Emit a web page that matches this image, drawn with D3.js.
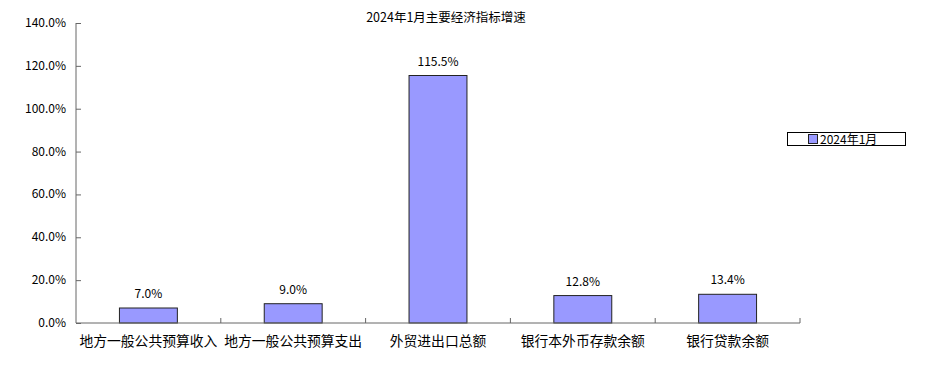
<!DOCTYPE html>
<html><head><meta charset="utf-8">
<script src="https://cdn.jsdelivr.net/npm/d3@7"></script>
<style>body{margin:0;background:#fff}svg text{font-family:"Noto Sans CJK SC","DejaVu Sans",sans-serif;fill:#000}</style>
</head><body><svg id="c" width="930" height="368"></svg>
<script>
const categories=["地方一般公共预算收入","地方一般公共预算支出","外贸进出口总额","银行本外币存款余额","银行贷款余额"];
const values=[7.0,9.0,115.5,12.8,13.4];
const yTicks=[0,20,40,60,80,100,120,140];
const seriesName="2024年1月";
const title="2024年1月主要经济指标增速";

const svg=d3.select("#c");
const L=76,R=800,T=23,B=323;
const x=d3.scaleBand().domain(categories).range([L,R]).paddingInner(0).paddingOuter(0);
const y=d3.scaleLinear().domain([0,140]).range([B,T]);
const fmt=v=>v.toFixed(1)+"%";

svg.append("text").attr("x",446).attr("y",22).attr("text-anchor","middle").attr("font-size",12.5).text(title);

// bars
svg.selectAll("rect.bar").data(values).join("rect").attr("class","bar")
 .attr("x",(d,i)=>x(categories[i])+x.bandwidth()*0.3).attr("width",x.bandwidth()*0.4)
 .attr("y",d=>y(d)).attr("height",d=>B-y(d))
 .attr("fill","#9999FF").attr("stroke","#222").attr("stroke-width",1);

svg.selectAll("text.val").data(values).join("text").attr("class","val")
 .attr("x",(d,i)=>x(categories[i])+x.bandwidth()/2).attr("y",d=>y(d)-10)
 .attr("text-anchor","middle").attr("font-size",12).text(fmt);

// y axis
const ya=svg.append("g").attr("transform",`translate(${L},0)`)
 .call(d3.axisRight(y).tickValues(yTicks).tickSize(5).tickFormat(""));
ya.select(".domain").remove();
ya.selectAll("line").attr("stroke","#666");
svg.append("line").attr("x1",L).attr("x2",L).attr("y1",T).attr("y2",B).attr("stroke","#666");
svg.selectAll("text.yl").data(yTicks).join("text").attr("class","yl")
 .attr("x",66).attr("y",d=>y(d)+4).attr("text-anchor","end").attr("font-size",12).text(d=>d.toFixed(1)+"%");

// x axis
svg.append("line").attr("x1",L).attr("x2",R).attr("y1",B).attr("y2",B).attr("stroke","#666");
const bounds=categories.map(c=>x(c)).concat([R]).slice(1);
svg.selectAll("line.xt").data(bounds).join("line").attr("class","xt")
 .attr("x1",d=>d).attr("x2",d=>d).attr("y1",B).attr("y2",B-5).attr("stroke","#666");
svg.selectAll("text.xl").data(categories).join("text").attr("class","xl")
 .attr("x",c=>x(c)+x.bandwidth()/2).attr("y",346).attr("text-anchor","middle").attr("font-size",13.8).text(c=>c);

// legend
const lg=svg.append("g");
lg.append("rect").attr("x",787.5).attr("y",132.5).attr("width",118).attr("height",13).attr("fill","#fff").attr("stroke","#000");
lg.append("rect").attr("x",808.5).attr("y",134.5).attr("width",9).attr("height",9).attr("fill","#9999FF").attr("stroke","#222");
lg.append("text").attr("x",820).attr("y",143.5).attr("font-size",12).text(seriesName);
</script></body></html>
